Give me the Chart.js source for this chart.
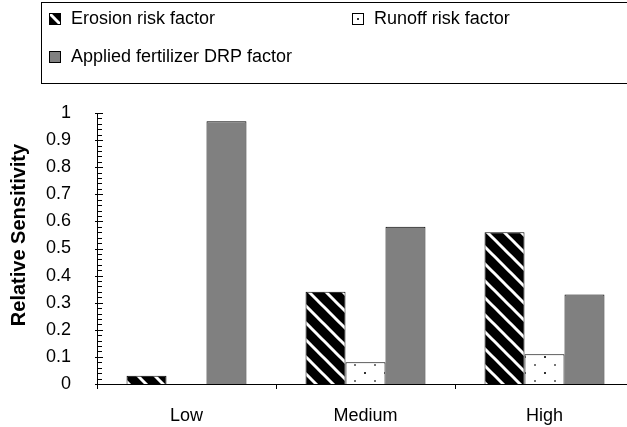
<!DOCTYPE html>
<html>
<head>
<meta charset="utf-8">
<script src="https://cdn.jsdelivr.net/npm/chart.js@4.4.0/dist/chart.umd.min.js"></script>
<style>
    html, body { margin: 0; padding: 0; background: #fff; overflow: hidden; }
    #wrap { width: 627px; height: 427px; overflow: hidden; }
</style>
</head>
<body>
<div id="wrap"><canvas id="chart" width="660" height="427"></canvas></div>
<script>
// Chart data
const categories = ['Low', 'Medium', 'High'];
const erosionValues = [0.03, 0.34, 0.56];
const runoffValues = [0, 0.08, 0.11];
const fertilizerValues = [0.97, 0.58, 0.33];
const seriesLabels = ['Erosion risk factor', 'Runoff risk factor', 'Applied fertilizer DRP factor'];
const yTickValues = [0, 0.1, 0.2, 0.3, 0.4, 0.5, 0.6, 0.7, 0.8, 0.9, 1];
const yTitle = 'Relative Sensitivity';

const FONT = '"Liberation Sans", Arial, sans-serif';

// Black with white diagonal stripes
function stripePattern() {
    const size = 17;
    const c = document.createElement('canvas');
    c.width = size;
    c.height = size;
    const g = c.getContext('2d');
    g.fillStyle = '#000';
    g.fillRect(0, 0, size, size);
    g.strokeStyle = '#fff';
    g.lineWidth = 3;
    [-size, 0, size].forEach(off => {
        g.beginPath();
        g.moveTo(off - 2, -2);
        g.lineTo(off + size + 2, size + 2);
        g.stroke();
    });
    return g.createPattern(c, 'repeat');
}

// White with sparse dots
function dotPattern() {
    const c = document.createElement('canvas');
    c.width = 20;
    c.height = 16;
    const g = c.getContext('2d');
    g.fillStyle = '#fff';
    g.fillRect(0, 0, 20, 16);
    g.fillStyle = '#333';
    g.fillRect(4, 4, 2, 2);
    g.fillStyle = '#777';
    g.fillRect(14, 12, 2, 2);
    return g.createPattern(c, 'repeat');
}

// Minor ticks on the y axis, pointing into the plot
const yAxisTicks = {
    id: 'yAxisTicks',
    afterDraw(chart) {
        const y = chart.scales.y;
        const ctx = chart.ctx;
        const x0 = chart.chartArea.left;
        ctx.save();
        ctx.strokeStyle = '#000';
        ctx.lineWidth = 1;
        ctx.beginPath();
        y.ticks.forEach((t, i) => {
            const py = Math.round(y.getPixelForValue(t.value)) + 0.5;
            ctx.moveTo(x0 - 2, py);
            ctx.lineTo(x0 + 6, py);
            const next = y.ticks[i + 1];
            if (next) {
                for (let k = 1; k < 5; k++) {
                    const v = t.value + (next.value - t.value) * k / 5;
                    const p = Math.round(y.getPixelForValue(v)) + 0.5;
                    ctx.moveTo(x0, p);
                    ctx.lineTo(x0 + 5, p);
                }
            }
        });
        ctx.stroke();
        ctx.restore();
    }
};

// Boxed legend + rotated y title
const boxLegend = {
    id: 'boxLegend',
    afterDraw(chart) {
        const ctx = chart.ctx;
        ctx.save();
        ctx.strokeStyle = '#000';
        ctx.lineWidth = 1;
        ctx.strokeRect(41.5, 2.5, 700, 81);

        const spots = [[49, 19], [352, 19], [49, 57]];
        ctx.font = '18px ' + FONT;
        ctx.textBaseline = 'middle';
        ctx.textAlign = 'left';
        chart.data.datasets.forEach((ds, i) => {
            const [x, y] = spots[i];
            ctx.save();
            ctx.translate(x, y - 6);
            ctx.fillStyle = ds.backgroundColor;
            ctx.translate(1, 1);
            ctx.fillRect(-1, -1, 12, 12);
            ctx.translate(-1, -1);
            ctx.strokeRect(0.5, 0.5, 11, 11);
            ctx.restore();
            ctx.fillStyle = '#000';
            ctx.fillText(ds.label, x + 22, y);
        });

        ctx.translate(19, 235);
        ctx.rotate(-Math.PI / 2);
        ctx.font = 'bold 20px ' + FONT;
        ctx.textAlign = 'center';
        ctx.fillText(yTitle, 0, 0);
        ctx.restore();
    }
};

const ctx = document.getElementById('chart').getContext('2d');

new Chart(ctx, {
    type: 'bar',
    data: {
        labels: categories,
        datasets: [
            {
                label: seriesLabels[0],
                data: erosionValues,
                backgroundColor: stripePattern(),
                borderColor: '#000',
                borderWidth: 1
            },
            {
                label: seriesLabels[1],
                data: runoffValues,
                backgroundColor: dotPattern(),
                borderColor: '#000',
                borderWidth: 1
            },
            {
                label: seriesLabels[2],
                data: fertilizerValues,
                backgroundColor: '#808080',
                borderColor: '#000',
                borderWidth: 1
            }
        ]
    },
    options: {
        responsive: false,
        animation: false,
        categoryPercentage: 0.67,
        barPercentage: 1,
        layout: {
            padding: { top: 113, right: 26, bottom: 0, left: 0 }
        },
        plugins: {
            legend: { display: false },
            tooltip: { enabled: false }
        },
        scales: {
            x: {
                grid: {
                    display: true,
                    drawOnChartArea: false,
                    drawTicks: true,
                    tickLength: 5,
                    color: '#000',
                    offset: true
                },
                border: { display: true, color: '#000', width: 1 },
                ticks: {
                    color: '#000',
                    padding: 16,
                    font: { family: FONT, size: 18 }
                },
                afterFit: scale => { scale.height = 43; }
            },
            y: {
                min: 0,
                max: 1,
                afterBuildTicks: scale => {
                    scale.ticks = yTickValues.map(v => ({ value: v }));
                },
                grid: { display: false },
                border: { display: true, color: '#000', width: 1 },
                ticks: {
                    color: '#000',
                    padding: 18,
                    autoSkip: false,
                    font: { family: FONT, size: 18 },
                    callback: value => String(Math.round(value * 10) / 10)
                },
                afterFit: scale => { scale.width = 97; }
            }
        }
    },
    plugins: [yAxisTicks, boxLegend]
});
</script>
</body>
</html>
